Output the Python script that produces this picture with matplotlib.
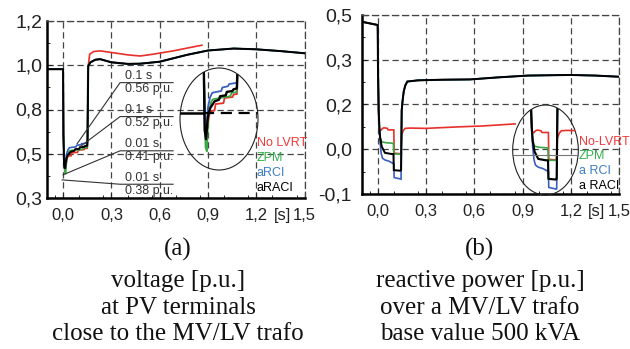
import numpy as np
import matplotlib.pyplot as plt
from matplotlib.patches import Ellipse

plt.rcParams['font.family'] = ['Liberation Sans', 'DejaVu Sans']

# ---- (a) voltage at PV terminals [p.u.] ----
t_pre_a = [-0.1, 0.0]
v_pre_a = [0.955, 0.955]
t_post_a = [0.17, 0.2, 0.23, 0.3, 0.4, 0.48, 0.6, 0.77, 0.9, 1.06, 1.2, 1.35, 1.5]
v_post_a = [0.99, 1.003, 1.006, 0.99, 0.982, 0.983, 0.993, 1.028, 1.05, 1.06, 1.056, 1.047, 1.036]

t_black_a = [0.002, 0.006, 0.012, 0.02, 0.03, 0.05, 0.07, 0.075, 0.1, 0.105, 0.13, 0.135, 0.15, 0.152, 0.156]
v_black_a = [0.62, 0.47, 0.449, 0.50, 0.52, 0.536, 0.540, 0.548, 0.550, 0.558, 0.560, 0.564, 0.566, 0.60, 0.97]
t_blue_a = [0.002, 0.008, 0.014, 0.02, 0.03, 0.04, 0.08, 0.085, 0.11, 0.115, 0.15, 0.152, 0.156]
v_blue_a = [0.62, 0.47, 0.458, 0.52, 0.545, 0.556, 0.560, 0.568, 0.571, 0.576, 0.579, 0.60, 0.97]
t_green_a = [0.002, 0.010, 0.016, 0.022, 0.035, 0.043, 0.12, 0.127, 0.148, 0.150, 0.154]
v_green_a = [0.64, 0.43, 0.421, 0.50, 0.535, 0.541, 0.548, 0.556, 0.557, 0.60, 0.975]
t_red_a = [0.002, 0.008, 0.015, 0.025, 0.03, 0.05, 0.055, 0.09, 0.095, 0.13, 0.135, 0.15, 0.152, 0.156,
           0.165, 0.19, 0.23, 0.3, 0.4, 0.478, 0.55, 0.683, 0.862]
v_red_a = [0.62, 0.47, 0.46, 0.50, 0.513, 0.515, 0.530, 0.532, 0.544, 0.546, 0.552, 0.553, 0.60, 0.97,
           1.031, 1.045, 1.048, 1.04, 1.028, 1.022, 1.03, 1.048, 1.077]

# annotations in (a)
ann_time = ['0.1 s', '0.1 s', '0.01 s', '0.01 s']
ann_volt = ['0.56 p.u.', '0.52 p.u.', '0.41 p.u.', '0.38 p.u.']
ann_pt_t = [0.087, 0.106, 0.0, -0.006]
ann_pt_v = [0.576, 0.561, 0.418, 0.392]
ann_line_v = [0.8865, 0.714, 0.540, 0.370]
ann_x0, ann_x1 = 0.354, 0.683

# ---- (b) reactive power over MV/LV trafo [p.u.] ----
t_pre_b = [-0.1, 0.0]
v_pre_b = [0.4775, 0.4665]
t_post_b = [0.149, 0.155, 0.162, 0.172, 0.184, 0.25, 0.4, 0.573, 0.75, 0.934, 1.195, 1.35, 1.5]
v_post_b = [0.181, 0.215, 0.245, 0.265, 0.277, 0.281, 0.283, 0.284, 0.291, 0.297, 0.299, 0.297, 0.293]

t_black_b = [0.002, 0.006, 0.01, 0.015, 0.025, 0.045, 0.087, 0.098, 0.1, 0.14, 0.145]
v_black_b = [0.30, 0.18, 0.125, 0.09, 0.059, 0.038, 0.034, 0.034, -0.02, -0.022, -0.02]
t_blue_b = [0.002, 0.006, 0.01, 0.015, 0.022, 0.03, 0.045, 0.07, 0.09, 0.1, 0.102, 0.145]
v_blue_b = [0.30, 0.18, 0.12, 0.07, 0.035, 0.02, 0.014, 0.01, 0.004, 0.002, -0.045, -0.05]
t_green_b = [0.002, 0.005, 0.01, 0.015, 0.025, 0.05, 0.097, 0.1, 0.145]
v_green_b = [0.40, 0.25, 0.13, 0.09, 0.075, 0.072, 0.07, 0.034, 0.034]
t_red_b = [0.002, 0.006, 0.01, 0.02, 0.03, 0.04, 0.06, 0.065, 0.1, 0.102, 0.14, 0.145,
           0.149, 0.158, 0.17, 0.2, 0.3, 0.5, 0.65, 0.853]
v_red_b = [0.30, 0.16, 0.118, 0.114, 0.12, 0.122, 0.12, 0.115, 0.115, 0.037, 0.035, 0.04,
           0.098, 0.112, 0.12, 0.121, 0.12, 0.125, 0.128, 0.135]

x_ticks = [0.0, 0.3, 0.6, 0.9, 1.2, 1.5]
x_labels = ['0,0', '0,3', '0,6', '0,9', '1,2', '1,5']
y_ticks_a = np.linspace(0.3, 1.2, 5)
y_labels_a = ['0,3', '0,5', '0,8', '1,0', '1,2']
y_ticks_b = np.linspace(-0.1, 0.5, 5)
y_labels_b = ['-0,1', '0,0', '0,2', '0,3', '0,5']

names_a = ['No LVRT', 'ZPM', 'aRCI', 'aRACI']
names_b = ['No-LVRT', 'ZPM', 'a RCI', 'a RACI']
colors = ['#e8302a', '#3aa845', '#3a5fc0', 'black']
text_colors = ['#f03a3a', '#2fae4a', '#3d7cc6', 'black']

# reference level drawn inside the zoom ellipse of (a)
inset_level_a = 0.51


def series_a():
    red = (t_pre_a + t_red_a, v_pre_a + v_red_a)
    green = (t_pre_a + t_green_a + t_post_a, v_pre_a + v_green_a + v_post_a)
    blue = (t_pre_a + t_blue_a + t_post_a, v_pre_a + v_blue_a + v_post_a)
    black = (t_pre_a + t_black_a + t_post_a, v_pre_a + v_black_a + v_post_a)
    return [red, green, blue, black]


def series_b():
    red = (t_pre_b + t_red_b, v_pre_b + v_red_b)
    green = (t_pre_b + t_green_b + t_post_b, v_pre_b + v_green_b + v_post_b)
    blue = (t_pre_b + t_blue_b + t_post_b, v_pre_b + v_blue_b + v_post_b)
    black = (t_pre_b + t_black_b + t_post_b, v_pre_b + v_black_b + v_post_b)
    return [red, green, blue, black]


def style(ax, yticks, ylabels, ypad):
    dash = (0, (5, 3))
    ax.set_xlim(-0.1, 1.5)
    ax.set_ylim(yticks[0], yticks[-1])
    ax.set_xticks(x_ticks)
    ax.set_xticklabels(x_labels)
    ax.set_yticks(yticks)
    ax.set_yticklabels(ylabels)
    step = yticks[1] - yticks[0]
    ax.set_yticks(yticks[:-1] + step / 2, minor=True)
    ax.set_xticks(np.arange(-0.05, 1.5, 0.15), minor=True)
    ax.tick_params(which='both', direction='in', color='black')
    ax.tick_params(which='major', length=3.5)
    ax.tick_params(which='minor', length=2.5)
    ax.tick_params(axis='x', labelsize=12, pad=7, colors='#222')
    ax.tick_params(axis='y', labelsize=14, pad=ypad, colors='#222')
    ax.grid(True, ls=dash, color='#444', lw=0.9)
    ax.set_axisbelow(True)
    for s in ['left', 'bottom']:
        ax.spines[s].set_linewidth(1.8)
    for s in ['top', 'right']:
        ax.spines[s].set_linestyle(dash)
        ax.spines[s].set_linewidth(0.9)
        ax.spines[s].set_color('#444')
    ax.patch.set_alpha(0)


def plot_all(ax, data, lw_main=1.2):
    for (t, v), c in zip(data, colors):
        ax.plot(t, v, color=c, lw=lw_main * (1.2 if c == 'black' else 1.0), solid_joinstyle='miter')


def inset(fig, rect, data, xlim, ylim, lw):
    ax_in = fig.add_axes(rect)
    ax_in.set_xlim(*xlim)
    ax_in.set_ylim(*ylim)
    ax_in.axis('off')
    ell = Ellipse((0.5, 0.5), 1, 1, transform=ax_in.transAxes, fill=False, ec='#222', lw=0.8, clip_on=False)
    ax_in.add_patch(ell)
    lines = []
    for (t, v), c in zip(data, colors):
        lines += ax_in.plot(t, v, color=c, lw=lw * (1.3 if c == 'black' else 1.0))
    return ax_in, ell, lines


fig = plt.figure(figsize=(6.3, 3.49), dpi=100)
ax_a = fig.add_axes([47 / 630, 1 - 198 / 349, 257.6 / 630, 177 / 349])
ax_b = fig.add_axes([361.6 / 630, 1 - 194 / 349, 257.7 / 630, 179 / 349])

style(ax_a, y_ticks_a, y_labels_a, 3.5)
style(ax_b, y_ticks_b, y_labels_b, 7)

data_a = series_a()
data_b = series_b()
plot_all(ax_a, data_a)
plot_all(ax_b, data_b)

# annotations of (a)
for lt, lv, pt, pv, yv in zip(ann_time, ann_volt, ann_pt_t, ann_pt_v, ann_line_v):
    ax_a.plot([pt, ann_x0, ann_x1], [pv, yv, yv], color='#333', lw=0.8)
    ax_a.annotate(lt, (ann_x0 + 0.03, yv), xytext=(0, 0.5), textcoords='offset points',
                  va='bottom', ha='left', fontsize=9, color='#333')
    ax_a.annotate(lv, (ann_x0 + 0.03, yv), xytext=(0, -0.5), textcoords='offset points',
                  va='top', ha='left', fontsize=9, color='#333')

# "[s]" unit labels
for ax, xs in [(ax_a, 1.36), (ax_b, 1.36)]:
    ax.annotate('[s]', (xs, 0), xycoords=('data', 'axes fraction'), xytext=(0, -7),
                textcoords='offset points', ha='center', va='top', fontsize=12, color='#222')

# curve names
for ax, names, x0, ys in [(ax_a, names_a, 0.815, [0.311, 0.226, 0.141, 0.056]),
                          (ax_b, names_b, 0.844, [0.29, 0.212, 0.128, 0.045])]:
    for n, c, y in zip(names, text_colors, ys):
        ax.text(x0, y, n, transform=ax.transAxes, color=c, fontsize=9, ha='left', va='center')

# zoomed insets
ax_ia, ell_a, lines_a = inset(fig, [180 / 630, 1 - 170 / 349, 78 / 630, 102 / 349], data_a,
                              (-0.104, 0.244), (0.378, 0.613), 1.3)
lines_a += ax_ia.plot([-0.104, 0.0], [inset_level_a, inset_level_a], color='black', lw=1.8)
lines_a += ax_ia.plot([0.0, 0.244], [inset_level_a, inset_level_a], color='black', lw=1.6, ls=(0, (5, 3)))
for ln in lines_a:
    ln.set_clip_path(ell_a)

ax_ib, ell_b, lines_b = inset(fig, [512.7 / 630, 1 - 195 / 349, 65.6 / 630, 90 / 349], data_b,
                              (-0.094, 0.2625), (-0.067, 0.195), 1.2)
lines_b += ax_ib.plot([-0.094, 0.2625], [y_ticks_b[1], y_ticks_b[1]], color='#777', lw=0.8)
for ln in lines_b:
    ln.set_clip_path(ell_b)

# captions
cap_a = ['(a)', 'voltage [p.u.]', 'at PV terminals', 'close to the MV/LV trafo']
cap_b = ['(b)', 'reactive power [p.u.]', 'over a MV/LV trafo', 'base value 500 kVA']
baselines = [256, 287, 314, 340]
for xc, cap in [(178, cap_a), (480, cap_b)]:
    for s, yb in zip(cap, baselines):
        fig.text(xc / 630, 1 - yb / 349, s, ha='center', va='baseline',
                 family=['Liberation Serif', 'DejaVu Serif'], fontsize=18, color='#111')

plt.savefig('out.png', dpi=100)
